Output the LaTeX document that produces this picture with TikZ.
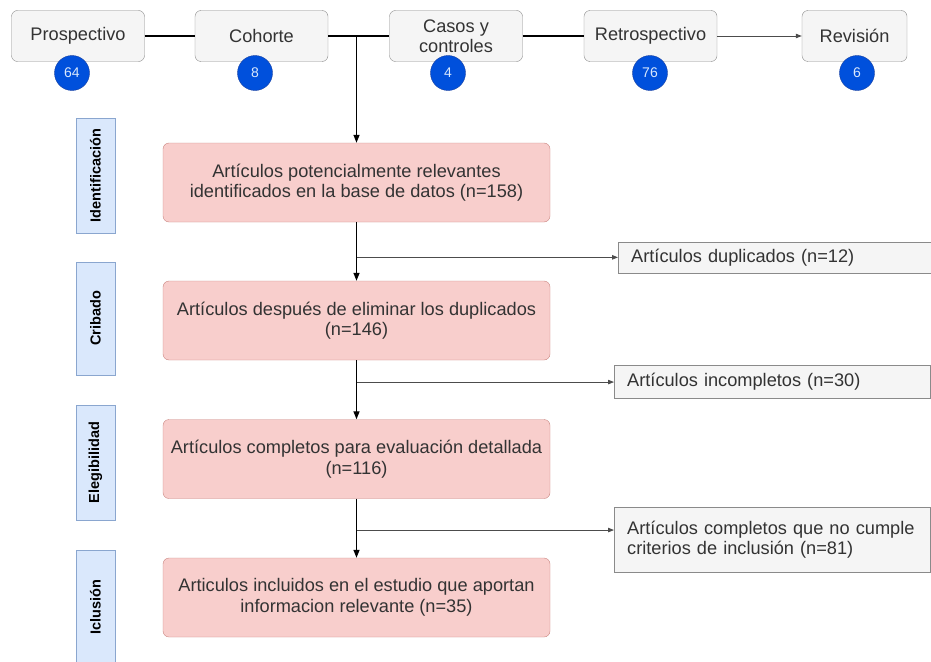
\documentclass[tikz,border=0pt]{standalone}
\usepackage{fontspec}
\setmainfont{Liberation Sans}
\usetikzlibrary{arrows.meta,positioning,calc}
\definecolor{greyfill}{HTML}{F5F5F5}
\definecolor{greyline}{HTML}{8A8A8A}
\definecolor{pinkfill}{HTML}{F8CECC}
\definecolor{pinkline}{HTML}{C98580}
\definecolor{bluefill}{HTML}{DAE8FC}
\definecolor{blueline}{HTML}{8AA6CF}
\definecolor{countfill}{HTML}{0050DC}
\definecolor{countline}{HTML}{1840A0}
\definecolor{inkgray}{HTML}{333333}
\tikzset{
  design/.style = {
    draw=greyline, fill=greyfill, rounded corners=6pt,
    minimum width=133pt, minimum height=51pt,
    align=center, text=inkgray, font=\fontsize{18.2}{20}\selectfont
  },
  count/.style = {
    circle, draw=countline, fill=countfill, minimum size=35pt,
    inner sep=0pt, text=bluefill, font=\fontsize{14}{16}\selectfont
  },
  stage/.style = {
    draw=blueline, fill=bluefill, rotate=90,
    minimum width=115pt, minimum height=39pt,
    text=black, font=\bfseries\fontsize{14.5}{16}\selectfont
  },
  article/.style = {
    draw=pinkline, fill=pinkfill, rounded corners=6pt,
    minimum width=387pt, minimum height=79pt,
    align=center, text=inkgray, font=\fontsize{18.2}{20.5}\selectfont
  },
  excluded/.style = {
    draw=greyline, fill=greyfill, anchor=west,
    text width=290pt, inner xsep=13pt, align=left,
    text=inkgray, font=\fontsize{18.2}{20.5}\selectfont
  },
  flow/.style = {-{Triangle[length=8pt,width=6pt]}, line width=1.3pt},
  branch/.style = {-{Triangle[length=6pt,width=4.5pt]}, draw=black!70, line width=0.8pt}
}

\begin{document}
\begin{tikzpicture}[x=1pt,y=-1pt]
  \useasboundingbox (0,0) rectangle (931,661);
  % study designs
  \node[design] (pro) at (78,36) {Prospectivo};
  \node[design] (coh) at (261.5,36) {Cohorte};
  \node[design] (cas) at (456,36) {Casos y\\controles};
  \node[design] (ret) at (650.5,36) {Retrospectivo};
  \node[design, minimum width=105pt] (rev) at (854.5,36) {Revisión};
  \node[count] (npro) at (72,73) {64};
  \node[count] (ncoh) at (255,73) {8};
  \node[count] (ncas) at (448,73) {4};
  \node[count] (nret) at (650,73) {76};
  \node[count] (nrev) at (857,73) {6};
  % stages
  \node[stage] (sid) at (95.5,175.5) {Identificación};
  \node[stage, minimum width=113pt] (scr) at (95.5,318.5) {Cribado};
  \node[stage] (sel) at (95.5,462.5) {Elegibilidad};
  \node[stage] (sin) at (95.5,607.5) {Iclusión};
  % flow
  \node[article] (a1) at (356.5,182.5) {Artículos potencialmente relevantes\\identificados en la base de datos (n=158)};
  \node[article] (a2) at (356.5,320.5) {Artículos después de eliminar los duplicados\\(n=146)};
  \node[article] (a3) at (356.5,459) {Artículos completos para evaluación detallada\\(n=116)};
  \node[article] (a4) at (356.5,597.5) {Articulos incluidos en el estudio que aportan\\informacion relevante (n=35)};
  \node[excluded, minimum height=31pt] (x1) at (618,257.5) {Artículos duplicados (n=12)};
  \node[excluded, minimum height=33pt] (x2) at (614,381.5) {Artículos incompletos (n=30)};
  \node[excluded, minimum height=65pt] (x3) at (614,539.5) {Artículos completos que no cumple\\criterios de inclusión (n=81)};
  %
  \draw[line width=1.3pt] (pro) -- (coh) (coh) -- (cas) (cas) -- (ret);
  \draw[branch] (ret) -- (rev);
  \coordinate (top) at (a1.north |- coh.east);
  \draw[flow] (top) -- (a1);
  \coordinate (j1) at ($(a1.south)!0.6!(a2.north)$);
  \coordinate (j2) at ($(a2.south)!0.37!(a3.north)$);
  \coordinate (j3) at ($(a3.south)!0.53!(a4.north)$);
  \draw[flow] (a1) -- (a2);
  \draw[flow] (a2) -- (a3);
  \draw[flow] (a3) -- (a4);
  \draw[branch] (j1) -- (x1.west |- j1);
  \draw[branch] (j2) -- (x2.west |- j2);
  \draw[branch] (j3) -- (x3.west |- j3);
\end{tikzpicture}
\end{document}
